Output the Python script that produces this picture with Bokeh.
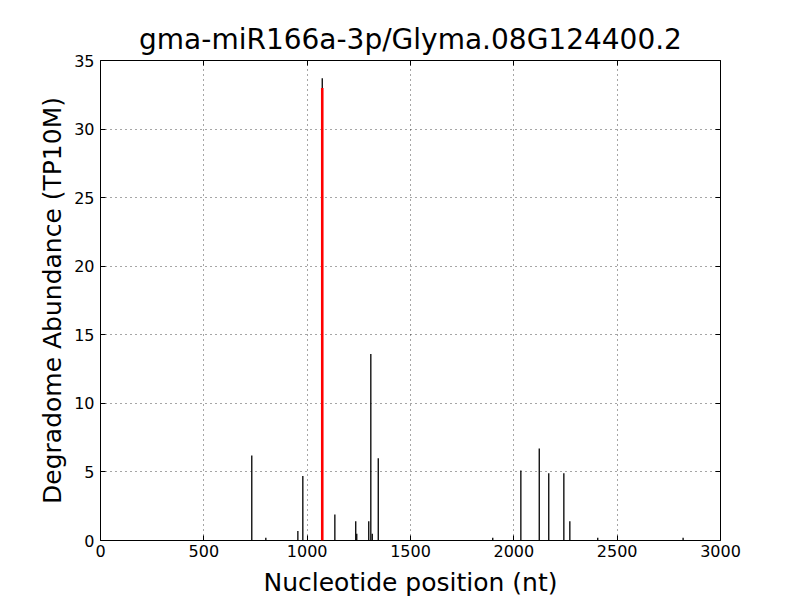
from bokeh.plotting import figure
from bokeh.models import LinearAxis, FixedTicker, Range1d
from bokeh.embed import file_html
from bokeh.resources import INLINE

# Data
positions = [732, 800, 955, 979, 1073, 1134, 1235, 1240, 1298, 1308, 1315, 1344,
             1898, 2034, 2123, 2169, 2242, 2271, 2406, 2819]
abundance = [6.2, 0.2, 0.7, 4.7, 33.7, 1.9, 1.4, 0.5, 1.4, 13.6, 0.5, 6.0,
             0.2, 5.1, 6.7, 4.9, 4.9, 1.4, 0.2, 0.2]
cleavage_pos = [1073]
cleavage_val = [33.0]

x_ticks = [0, 500, 1000, 1500, 2000, 2500, 3000]
y_ticks = [0, 5, 10, 15, 20, 25, 30, 35]

FONT = "DejaVu Sans"

p = figure(width=800, height=600, output_backend="svg", toolbar_location=None,
           x_range=Range1d(0, 3000), y_range=Range1d(0, 35),
           title="gma-miR166a-3p/Glyma.08G124400.2")
p.min_border_left = 100
p.min_border_right = 80
p.min_border_top = 60
p.min_border_bottom = 60
p.background_fill_color = "white"
p.border_fill_color = "white"
p.outline_line_color = "black"
p.outline_line_width = 1

p.title.text_font = FONT
p.title.text_font_size = "28px"
p.title.text_font_style = "normal"
p.title.align = "center"
p.title.text_color = "black"

# bars
p.segment(x0=positions, y0=[0] * len(positions), x1=positions, y1=abundance,
          line_color="black", line_width=1.3)
p.segment(x0=cleavage_pos, y0=[0], x1=cleavage_pos, y1=cleavage_val,
          line_color="red", line_width=2.6)

for ax in (p.xaxis[0], p.yaxis[0]):
    ax.major_tick_in = 5
    ax.major_tick_out = 0
    ax.minor_tick_in = 0
    ax.minor_tick_out = 0
    ax.axis_line_color = None
    ax.major_tick_line_color = "black"
    ax.major_label_text_font = FONT
    ax.major_label_text_font_size = "16px"
    ax.major_label_text_color = "black"
    ax.axis_label_text_font = FONT
    ax.axis_label_text_font_size = "25px"
    ax.axis_label_text_font_style = "normal"
    ax.axis_label_text_color = "black"

p.xaxis[0].ticker = FixedTicker(ticks=x_ticks)
p.yaxis[0].ticker = FixedTicker(ticks=y_ticks)
p.xaxis[0].axis_label = "Nucleotide position (nt)"
p.yaxis[0].axis_label = "Degradome Abundance (TP10M)"
p.xaxis[0].major_label_standoff = 4
p.xaxis[0].axis_label_standoff = 8
p.yaxis[0].major_label_standoff = 6
p.yaxis[0].axis_label_standoff = 4

# mirrored tick axes (ticks only, no labels)
top = LinearAxis(ticker=FixedTicker(ticks=x_ticks),
                 major_label_overrides={t: "" for t in x_ticks})
right = LinearAxis(ticker=FixedTicker(ticks=y_ticks),
                   major_label_overrides={t: "" for t in y_ticks})
for ax in (top, right):
    ax.major_tick_in = 5
    ax.major_tick_out = 0
    ax.minor_tick_in = 0
    ax.minor_tick_out = 0
    ax.axis_line_color = None
    ax.major_label_standoff = 0
p.add_layout(top, "above")
p.add_layout(right, "right")

p.xgrid.ticker = FixedTicker(ticks=x_ticks)
p.ygrid.ticker = FixedTicker(ticks=y_ticks)
for g in (p.xgrid[0], p.ygrid[0]):
    g.grid_line_color = "black"
    g.grid_line_alpha = 0.7
    g.grid_line_dash = "1 4"
    g.grid_line_width = 1

open("out.html", "w").write(file_html(p, INLINE))
